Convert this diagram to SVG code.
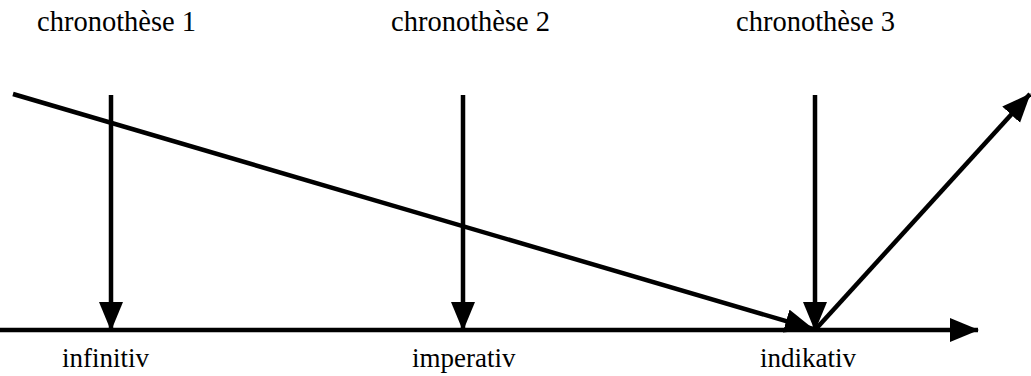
<svg xmlns="http://www.w3.org/2000/svg" width="1031" height="376" viewBox="0 0 1031 376">
<style>
.lbl{font-family:"Liberation Serif","Times New Roman",serif;font-size:27px;fill:#000}
.top{font-size:28.5px}
.ln{stroke:#000;stroke-width:4.5;fill:none}
</style>
<defs>
<marker id="ah" markerUnits="userSpaceOnUse" markerWidth="32" markerHeight="26" refX="28" refY="12" orient="auto" viewBox="0 0 32 26">
<path d="M0,0 L29,12 L0,24 z" fill="#000"/>
</marker>
</defs>
<rect width="1031" height="376" fill="#fff"/>
<g id="connectors">
<line class="ln" x1="0" y1="330" x2="978" y2="330" marker-end="url(#ah)"/>
<line class="ln" x1="111" y1="95" x2="111" y2="330" marker-end="url(#ah)"/>
<line class="ln" x1="463" y1="95" x2="463" y2="330" marker-end="url(#ah)"/>
<line class="ln" x1="815" y1="95" x2="815" y2="330" marker-end="url(#ah)"/>
<line class="ln" x1="13" y1="94" x2="813" y2="329" marker-end="url(#ah)"/>
<line class="ln" x1="815" y1="330" x2="1030" y2="94" marker-end="url(#ah)"/>
</g>
<g id="chronothese1"><text class="lbl top" x="37" y="31">chronothèse 1</text></g>
<g id="chronothese2"><text class="lbl top" x="391" y="31">chronothèse 2</text></g>
<g id="chronothese3"><text class="lbl top" x="736" y="31">chronothèse 3</text></g>
<g id="infinitiv"><text class="lbl" x="62" y="367">infinitiv</text></g>
<g id="imperativ"><text class="lbl" x="412" y="367">imperativ</text></g>
<g id="indikativ"><text class="lbl" x="760" y="367">indikativ</text></g>
</svg>
